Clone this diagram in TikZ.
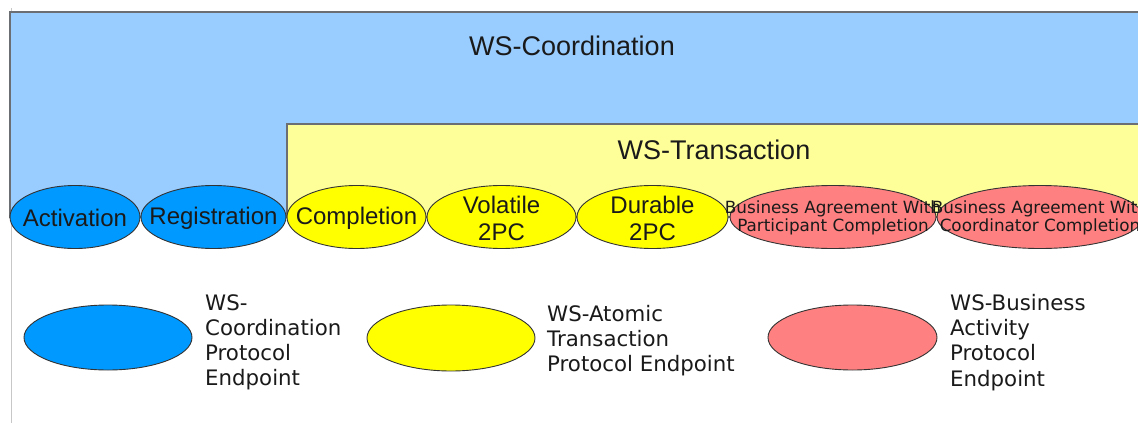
\documentclass[tikz,border=0pt]{standalone}
\usepackage{fontspec}
\setmainfont{Liberation Sans}
\newfontfamily\dvfont{DejaVu Sans}
\usetikzlibrary{shapes.geometric}
\definecolor{coordbg}{HTML}{99CCFF}
\definecolor{transbg}{HTML}{FFFF99}
\definecolor{coordep}{HTML}{0099FF}
\definecolor{atomicep}{HTML}{FFFF00}
\definecolor{baep}{HTML}{FF8080}
\definecolor{frame}{HTML}{6B6F73}
\definecolor{ink}{HTML}{1A1A1A}
\tikzset{
  x=1pt, y=-1pt,
  region/.style={draw=frame, line width=1.5pt},
  endpoint/.style={ellipse, draw=black!80, line width=0.9pt, inner sep=0pt,
    minimum height=63pt},
  eplabel/.style={text=ink, font=\fontsize{24}{27}\selectfont, align=center, inner sep=0pt},
  balabel/.style={text=ink, font=\dvfont\fontsize{16.8}{18.5}\selectfont, align=center, inner sep=0pt},
  title/.style={text=ink, font=\fontsize{27}{30}\selectfont, inner sep=0pt},
  legendtext/.style={text=ink, font=\dvfont\fontsize{21.3}{25.3}\selectfont, align=left,
    anchor=north west, inner sep=0pt},
}
\begin{document}
\begin{tikzpicture}
\useasboundingbox (0,0) rectangle (1138,423);
\clip (0,0) rectangle (1138,423);
\fill[white] (0,0) rectangle (1138,423);
% page edge
\draw[black!22, line width=0.8pt] (11,8) -- (11,423);
% specification regions
\draw[region, fill=coordbg] (10,12) rectangle (1160,217);
\node[title] (tcoord) at (572,46) {WS-Coordination};
\draw[region, fill=transbg] (287,124) rectangle (1160,217);
\node[title] (ttrans) at (714,150) {WS-Transaction};
% protocol endpoints
\node[endpoint, fill=coordep, minimum width=130pt] (act) at (75,217) {};
\node[eplabel] at ([yshift=-1pt]act.center) {Activation};
\node[endpoint, fill=coordep, minimum width=145pt] (reg) at (213.5,217) {};
\node[eplabel] at ([yshift=-1pt]reg.center) {Registration};
\node[endpoint, fill=atomicep, minimum width=139pt] (comp) at (356.5,217) {};
\node[eplabel] at ([yshift=-1pt]comp.center) {Completion};
\node[endpoint, fill=atomicep, minimum width=149pt] (vol) at (501.5,217) {};
\node[eplabel] at ([yshift=-1pt]vol.center) {Volatile\\2PC};
\node[endpoint, fill=atomicep, minimum width=151pt] (dur) at (652.5,217) {};
\node[eplabel] at ([yshift=-1pt]dur.center) {Durable\\2PC};
\node[endpoint, fill=baep, minimum width=206pt] (bapc) at (833,217) {};
\node[balabel] at ([yshift=-1pt]bapc.center) {Business Agreement With\\Participant Completion};
\node[endpoint, fill=baep, minimum width=206pt] (bacc) at (1040,217) {};
\node[balabel] at ([yshift=-1pt]bacc.center) {Business Agreement With\\Coordinator Completion};
% legend
\node[endpoint, fill=coordep, minimum width=168pt, minimum height=65pt] (lgc) at (108,337.5) {};
\node[legendtext] (lgct) at (205,294) {WS-\\Coordination\\Protocol\\Endpoint};
\node[endpoint, fill=atomicep, minimum width=168pt, minimum height=66pt] (lga) at (451,338) {};
\node[legendtext] (lgat) at (547,305) {WS-Atomic\\Transaction\\Protocol Endpoint};
\node[endpoint, fill=baep, minimum width=169pt, minimum height=65pt] (lgb) at (852.5,337.5) {};
\node[legendtext] (lgbt) at (950,294) {WS-Business\\Activity\\Protocol\\Endpoint};
\end{tikzpicture}
\end{document}
